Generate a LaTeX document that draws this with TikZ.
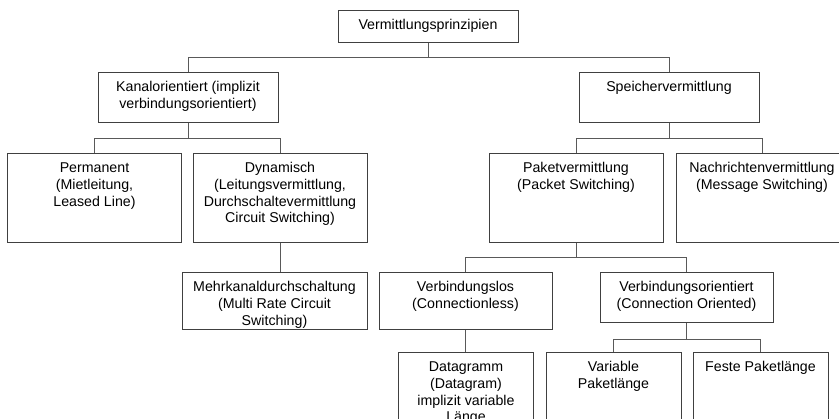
\documentclass[tikz,border=0pt]{standalone}
\usepackage{fontspec}
\setmainfont{Liberation Sans}
\usepackage{xcolor}
\usepackage{tikz}

% box text: width, height, lines (top aligned)
\newcommand{\boxtext}[3]{\parbox[t][#2pt][t]{#1pt}{\centering\rule{0pt}{19pt}#3}}

\begin{document}
\begin{tikzpicture}[x=1pt,y=-1pt,
  blk/.style={draw=black!75, line width=0.9pt, inner sep=0pt, anchor=north,
    font=\fontsize{14.2}{16.8}\selectfont},
  con/.style={draw=black!65, line width=0.9pt}]
\useasboundingbox (0,0) rectangle (839,419);
\clip (0,0) rectangle (839,419);

\node[blk] (root) at (428,10) {\boxtext{180}{32}{Vermittlungsprinzipien}};

\node[blk] (kanal) at (188,72) {\boxtext{180}{50}{Kanalorientiert (implizit\\verbindungsorientiert)}};
\node[blk] (speicher) at (669,72) {\boxtext{180}{50}{Speichervermittlung}};

\node[blk] (perm) at (94.5,153) {\boxtext{174}{89}{Permanent\\(Mietleitung,\\Leased Line)}};
\node[blk] (dyn) at (280,153) {\boxtext{174}{89}{Dynamisch\\(Leitungsvermittlung,\\Durchschaltevermittlung\\Circuit Switching)}};
\node[blk] (paket) at (576,153) {\boxtext{174}{89}{Paketvermittlung\\(Packet Switching)}};
\node[blk] (nachr) at (762,153) {\boxtext{172}{89}{Nachrichtenvermittlung\\(Message Switching)}};

\node[blk] (mehr) at (274.5,272) {\boxtext{185}{57}{Mehrkanaldurchschaltung\\(Multi Rate Circuit\\Switching)}};
\node[blk] (vlos) at (465.5,272) {\boxtext{173}{57}{Verbindungslos\\(Connectionless)}};
\node[blk] (vor) at (686.5,272) {\boxtext{173}{50}{Verbindungsorientiert\\(Connection Oriented)}};

\node[blk] (data) at (466,352) {\boxtext{135}{90}{Datagramm\\(Datagram)\\implizit variable\\Länge}};
\node[blk] (var) at (613.5,352) {\boxtext{135}{90}{Variable\\Paketlänge}};
\node[blk] (fest) at (760.5,352) {\boxtext{135}{90}{Feste Paketlänge}};

% connectors
\draw[con] (root.south) -- +(0,15) -| (kanal.north);
\draw[con] (root.south) -- +(0,15) -| (speicher.north);

\draw[con] (kanal.south) -- +(0,16) -| (perm.north);
\draw[con] (kanal.south) -- +(0,16) -| (dyn.north);
\draw[con] (speicher.south) -- +(0,16) -| (paket.north);
\draw[con] (speicher.south) -- +(0,16) -| (nachr.north);

\draw[con] (dyn.south) -- (dyn.south |- mehr.north);

\draw[con] (paket.south) -- +(0,15) -| (vlos.north);
\draw[con] (paket.south) -- +(0,15) -| (vor.north);

\draw[con] (vlos.south) -- (vlos.south |- data.north);
\draw[con] (vor.south) -- +(0,17) -| (var.north);
\draw[con] (vor.south) -- +(0,17) -| (fest.north);

\end{tikzpicture}
\end{document}
